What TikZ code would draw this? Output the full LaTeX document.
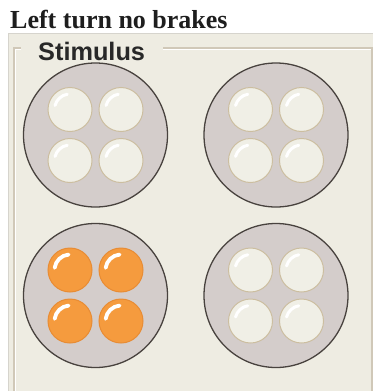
\documentclass[tikz,border=0pt]{standalone}
\usepackage{fontspec}
\setmainfont{Liberation Serif}
\newfontfamily\boxfont{Liberation Sans}
\usetikzlibrary{calc}
\definecolor{panelbg}{RGB}{238,236,226}
\definecolor{paneledge}{RGB}{214,212,205}
\definecolor{boxdark}{RGB}{208,200,184}
\definecolor{discfill}{RGB}{212,205,203}
\definecolor{discline}{RGB}{72,66,62}
\definecolor{offfill}{RGB}{240,239,230}
\definecolor{offline}{RGB}{204,190,160}
\definecolor{onfill}{RGB}{245,155,62}
\definecolor{online}{RGB}{232,140,52}
\definecolor{stimtext}{RGB}{40,40,40}
\definecolor{titletext}{RGB}{30,30,30}
\begin{document}
\begin{tikzpicture}[x=1pt,y=-1pt,
  bigdisc/.style={circle,inner sep=0pt,minimum size=144pt,fill=discfill,draw=discline,line width=1.3pt},
  lampoff/.style={circle,inner sep=0pt,minimum size=44pt,fill=offfill,draw=offline,line width=1pt},
  lampon/.style={circle,inner sep=0pt,minimum size=44pt,fill=onfill,draw=online,line width=1pt},
  hlon/.style={draw=white,line width=3.8pt,line cap=round},
  hloff/.style={draw=white,line width=3pt,line cap=round},
  groupline/.style={draw=boxdark,line width=1.2pt},
  groupwhite/.style={draw=white,line width=1pt}]
\useasboundingbox (0,0) rectangle (373,391);
\fill[white] (0,0) rectangle (373,391);
\fill[panelbg] (8,33) rectangle (373,391);
\draw[paneledge,line width=1pt] (8.5,391) -- (8.5,33.5) -- (373,33.5);
% group box
\draw[groupline] (14,391) -- (14,48) -- (21,48);
\draw[groupline] (163,48) -- (372,48) -- (372,391);
\draw[groupwhite] (15.5,391) -- (15.5,49.5) -- (21,49.5);
\draw[groupwhite] (163,49.5) -- (370.8,49.5);
% texts
\node[anchor=base west,inner sep=0pt,text=titletext,font=\fontsize{26}{28}\selectfont\bfseries] (title) at (10,28) {Left turn no brakes};
\node[anchor=base west,inner sep=0pt,text=stimtext,font=\boxfont\fontsize{25.3}{28}\selectfont\bfseries] (stim) at (38,60) {Stimulus};
% discs
\node[bigdisc] (d1) at (95.5,135) {};
\node[bigdisc] (d2) at (276,135) {};
\node[bigdisc] (d3) at (95.5,295.5) {};
\node[bigdisc] (d4) at (276,295.5) {};
% lamps
\foreach \d/\s in {d1/lampoff,d2/lampoff,d3/lampon,d4/lampoff}{
  \node[\s] (\d a) at ($(\d)+(-25.5,-25.5)$) {};
  \node[\s] (\d b) at ($(\d)+(25.5,-25.5)$) {};
  \node[\s] (\d c) at ($(\d)+(-25.5,25.5)$) {};
  \node[\s] (\d e) at ($(\d)+(25.5,25.5)$) {};
}
\foreach \d in {d1,d2,d4}{
  \foreach \l in {a,b,c,e}{
    \draw[hloff] ([shift={(100:15.5pt)}]\d\l.center) arc[start angle=100,end angle=165,radius=15.5pt];
  }
}
\foreach \l in {a,b,c,e}{
  \draw[hlon] ([shift={(95:15.5pt)}]d3\l.center) arc[start angle=95,end angle=172,radius=15.5pt];
}
\end{tikzpicture}
\end{document}
